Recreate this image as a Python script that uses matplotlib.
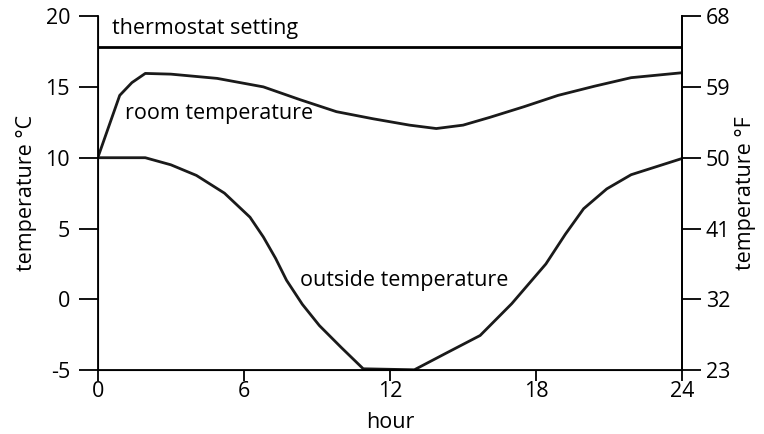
import matplotlib
matplotlib.use('Agg')
import matplotlib.pyplot as plt
import numpy as np

plt.rcParams['font.family'] = ['Open Sans', 'DejaVu Sans']
plt.rcParams['axes.unicode_minus'] = False

# hours and temperatures (deg C)
thermostat_c = 17.8
room_hours = [0, 0.9, 1.4, 1.95, 3.0, 4.9, 6.8, 8.3, 9.8, 11.3, 12.8, 13.9, 15.0, 16.1, 17.5, 18.9, 20.4, 21.9, 24]
room_temp = [10, 14.4, 15.3, 15.95, 15.9, 15.6, 15.0, 14.1, 13.25, 12.75, 12.3, 12.06, 12.3, 12.85, 13.6, 14.4, 15.05, 15.65, 16.0]
out_hours = [0, 1.95, 3.0, 4.05, 5.2, 6.25, 6.8, 7.3, 7.75, 8.4, 9.1, 10.0, 10.9, 13.0, 14.3, 15.7, 17.0, 18.4, 19.2, 19.95, 20.9, 21.9, 24]
out_temp = [10, 10, 9.5, 8.75, 7.5, 5.8, 4.4, 2.9, 1.35, -0.35, -1.85, -3.4, -4.9, -4.97, -3.8, -2.55, -0.3, 2.5, 4.6, 6.4, 7.8, 8.8, 9.95]

c_ticks = [-5, 0, 5, 10, 15, 20]
f_ticks = [23, 32, 41, 50, 59, 68]
hour_ticks = [0, 6, 12, 18, 24]

fs = 15.5
fig = plt.figure(figsize=(7.64, 4.34), dpi=100)
ax = fig.add_axes([0.128, 0.147, 0.765, 0.816])
lw = 2.0
ax.axhline(thermostat_c, color='black', lw=lw)
ax.plot(room_hours, room_temp, color='#1a1a1a', lw=lw, solid_joinstyle='round')
ax.plot(out_hours, out_temp, color='#1a1a1a', lw=lw, solid_joinstyle='round')

ax.set_xlim(0, 24)
ax.set_ylim(-5, 20)
ax.set_xticks(hour_ticks)
ax.set_yticks(c_ticks)
ax.set_xlabel('hour', fontsize=fs, labelpad=7)
ax.set_ylabel('temperature °C', fontsize=fs, labelpad=6)
ax.spines['top'].set_visible(False)
for s in ['left', 'bottom', 'right']:
    ax.spines[s].set_linewidth(1.3)
ax.tick_params(axis='y', length=14, width=1.3, labelsize=fs, pad=6)
ax.tick_params(axis='x', length=8, width=1.3, labelsize=fs, pad=0)

ax2 = ax.twinx()
ax2.set_ylim(23, 68)
ax2.set_yticks(f_ticks)
ax2.spines['top'].set_visible(False)
ax2.spines['right'].set_linewidth(1.3)
ax2.tick_params(axis='y', length=14, width=1.3, labelsize=fs, pad=3)
ax2.set_ylabel('temperature °F', fontsize=fs, labelpad=3)

ax.text(0.6, 19.15, 'thermostat setting', fontsize=fs, va='center')
ax.text(1.1, 13.1, 'room temperature', fontsize=fs, va='center')
ax.text(8.3, 1.35, 'outside temperature', fontsize=fs, va='center')

fig.savefig('out.png', dpi=100)
